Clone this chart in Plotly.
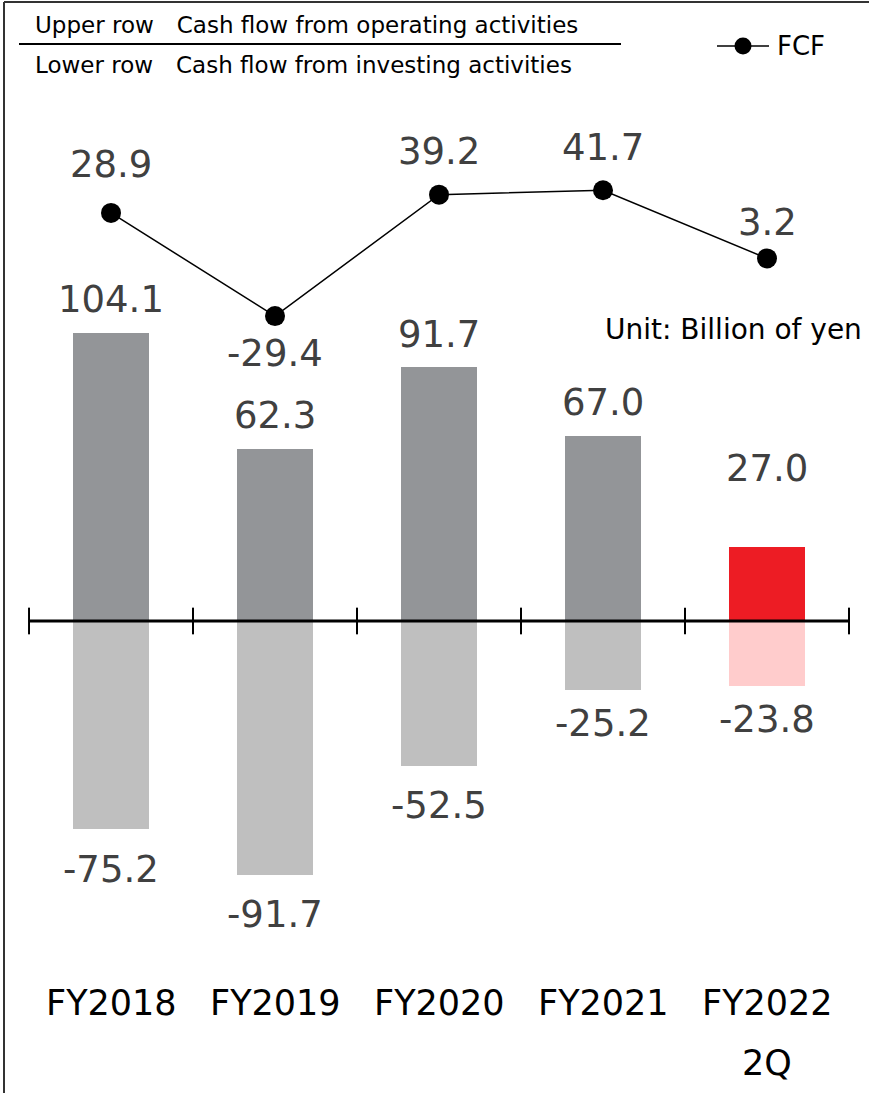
import plotly.graph_objects as go

categories = ["FY2018", "FY2019", "FY2020", "FY2021", "FY2022"]
sub_labels = ["", "", "", "", "2Q"]
operating_cf = [104.1, 62.3, 91.7, 67.0, 27.0]
investing_cf = [-75.2, -91.7, -52.5, -25.2, -23.8]
fcf = [28.9, -29.4, 39.2, 41.7, 3.2]

op_colors = ["#939598", "#939598", "#939598", "#939598", "#ED1C24"]
inv_colors = ["#BFBFBF", "#BFBFBF", "#BFBFBF", "#BFBFBF", "#FFCCCC"]

W, H = 869, 1093
x = list(range(len(categories)))

fig = go.Figure()
fig.add_trace(go.Bar(x=x, y=operating_cf, marker=dict(color=op_colors, line=dict(color="white", width=2)),
                     width=0.48, showlegend=False, hoverinfo="skip"))
fig.add_trace(go.Bar(x=x, y=investing_cf, marker=dict(color=inv_colors, line=dict(color="white", width=2)),
                     width=0.48, showlegend=False, hoverinfo="skip"))
fig.add_trace(go.Scatter(x=x, y=fcf, yaxis="y2", mode="lines+markers", name="FCF",
                         line=dict(color="black", width=1.5),
                         marker=dict(color="black", size=20), showlegend=False, hoverinfo="skip"))

annotations = []
lab_font = dict(family="DejaVu Sans", size=37, color="#404040")
for i, v in enumerate(operating_cf):
    shift = 77 if i == len(operating_cf) - 1 else 32
    annotations.append(dict(x=x[i], y=v, xref="x", yref="y", text=f"{v:.1f}", showarrow=False,
                            yanchor="middle", yshift=shift, font=lab_font))
for i, v in enumerate(investing_cf):
    shift = -32 if v > -40 else -39
    annotations.append(dict(x=x[i], y=v, xref="x", yref="y", text=f"{v:.1f}", showarrow=False,
                            yanchor="middle", yshift=shift, font=lab_font))
fcf_shifts = [48, -37, 43, 43, 36]
for i, v in enumerate(fcf):
    annotations.append(dict(x=x[i], y=v, xref="x", yref="y2", text=f"{v:.1f}", showarrow=False,
                            yanchor="middle", yshift=fcf_shifts[i], font=lab_font))
cat_font = dict(family="DejaVu Sans", size=35, color="black")
for i, c in enumerate(categories):
    annotations.append(dict(x=x[i], y=1 - 1003 / H, xref="x", yref="paper", text=c, showarrow=False,
                            yanchor="middle", font=cat_font))
    if sub_labels[i]:
        annotations.append(dict(x=x[i], y=1 - 1063 / H, xref="x", yref="paper", text=sub_labels[i],
                                showarrow=False, yanchor="middle", font=cat_font))

small_font = dict(family="DejaVu Sans", size=23, color="black")
annotations.append(dict(x=33 / W, y=1 - 25 / H, xref="paper", yref="paper", xanchor="left",
                        yanchor="middle", text="Upper row\u2003Cash flow from operating activities",
                        showarrow=False, font=small_font))
annotations.append(dict(x=33 / W, y=1 - 65 / H, xref="paper", yref="paper", xanchor="left",
                        yanchor="middle", text="Lower row\u2003Cash flow from investing activities",
                        showarrow=False, font=small_font))
annotations.append(dict(x=864 / W, y=1 - 330 / H, xref="paper", yref="paper", xanchor="right",
                        yanchor="middle", text="Unit: Billion of yen", showarrow=False,
                        font=dict(family="DejaVu Sans", size=28, color="black")))
# legend text
annotations.append(dict(x=775 / W, y=1 - 46 / H, xref="paper", yref="paper", xanchor="left",
                        yanchor="middle", text="FCF", showarrow=False,
                        font=dict(family="DejaVu Sans", size=26, color="black")))

shapes = []
# frame
shapes.append(dict(type="line", xref="paper", yref="paper", x0=4 / W, x1=1, y0=1 - 2 / H, y1=1 - 2 / H,
                   line=dict(color="#333333", width=2)))
shapes.append(dict(type="line", xref="paper", yref="paper", x0=4 / W, x1=4 / W, y0=0, y1=1 - 2 / H,
                   line=dict(color="#333333", width=2)))
# separator under upper row
shapes.append(dict(type="line", xref="paper", yref="paper", x0=19 / W, x1=621 / W, y0=1 - 44 / H,
                   y1=1 - 44 / H, line=dict(color="black", width=2)))
# legend symbol
shapes.append(dict(type="line", xref="paper", yref="paper", x0=717 / W, x1=769 / W, y0=1 - 46 / H,
                   y1=1 - 46 / H, line=dict(color="black", width=1.5)))
shapes.append(dict(type="circle", xref="paper", yref="paper", x0=734.5 / W, x1=751.5 / W,
                   y0=1 - 54.5 / H, y1=1 - 37.5 / H, fillcolor="black", line=dict(color="black", width=0)))
# zero axis with ticks
shapes.append(dict(type="line", xref="x", yref="y", x0=-0.5, x1=len(categories) - 0.5, y0=0, y1=0,
                   line=dict(color="black", width=3)))
for i in range(len(categories) + 1):
    shapes.append(dict(type="line", xref="x", yref="y", x0=i - 0.5, x1=i - 0.5, y0=-4.8, y1=4.8,
                       line=dict(color="black", width=2)))

fig.update_layout(
    width=W, height=H, margin=dict(l=0, r=0, t=0, b=0),
    paper_bgcolor="white", plot_bgcolor="white",
    barmode="overlay", bargap=0, showlegend=False,
    xaxis=dict(range=[-0.677, 4.622], visible=False, fixedrange=True),
    yaxis=dict(range=[-169.8, 223.4], visible=False, fixedrange=True),
    yaxis2=dict(range=[-468.4, 149.2], overlaying="y", visible=False, fixedrange=True),
    annotations=annotations, shapes=shapes,
)

fig.write_html("out.html")
